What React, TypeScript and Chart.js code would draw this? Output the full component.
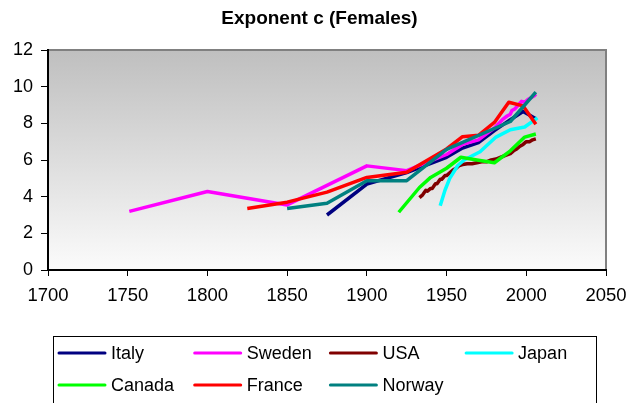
import React, { useEffect, useRef } from 'react';
import { Chart, registerables } from 'chart.js';

Chart.register(...registerables);

const TITLE = 'Exponent c (Females)';
const X_TICKS = [1700, 1750, 1800, 1850, 1900, 1950, 2000, 2050];
const Y_TICKS = [0, 2, 4, 6, 8, 10, 12];

const COUNTRIES = ['Italy', 'Sweden', 'USA', 'Japan', 'Canada', 'France', 'Norway'];

const italyYears = [1875, 1900, 1925, 1950, 1960, 1970, 1980, 1990, 1998, 2006];
const italyValues = [3.0, 4.69, 5.31, 6.15, 6.65, 6.95, 7.6, 8.2, 8.65, 8.25];

const swedenYears = [1751, 1800, 1850, 1900, 1925, 1940, 1950, 1960, 1970, 1980, 1985, 1988, 1990, 1991, 1993, 1995, 1997, 1999, 2001, 2003, 2005, 2006];
const swedenValues = [3.2, 4.28, 3.55, 5.68, 5.42, 5.95, 6.3, 6.85, 7.1, 7.75, 8.2, 8.4, 8.5, 8.7, 8.8, 9.0, 9.2, 9.15, 9.3, 9.4, 9.5, 9.6];

const usaYears = [1933, 1935, 1937, 1938, 1940, 1941, 1943, 1944, 1946, 1947, 1949, 1950, 1952, 1954, 1956, 1958, 1960, 1963, 1966, 1969, 1972, 1975, 1978, 1981, 1984, 1987, 1990, 1992, 1994, 1996, 1998, 2000, 2002, 2004, 2006];
const usaValues = [3.95, 4.1, 4.35, 4.3, 4.45, 4.45, 4.7, 4.7, 4.95, 4.95, 5.15, 5.15, 5.3, 5.45, 5.55, 5.7, 5.75, 5.8, 5.8, 5.85, 5.9, 5.9, 6.0, 6.05, 6.15, 6.25, 6.35, 6.5, 6.6, 6.75, 6.85, 7.0, 7.0, 7.1, 7.15];

const japanYears = [1946, 1949, 1952, 1957, 1961, 1971, 1981, 1990, 1999, 2007];
const japanValues = [3.5, 4.35, 5.0, 5.7, 6.0, 6.45, 7.25, 7.65, 7.8, 8.3];

const canadaYears = [1920, 1933, 1940, 1950, 1959, 1969, 1980, 1990, 1999, 2006];
const canadaValues = [3.15, 4.5, 5.05, 5.55, 6.15, 6.0, 5.85, 6.5, 7.25, 7.42];

const franceYears = [1825, 1850, 1875, 1900, 1925, 1950, 1960, 1970, 1980, 1989, 1998, 2006];
const franceValues = [3.36, 3.7, 4.25, 5.05, 5.33, 6.6, 7.27, 7.35, 8.05, 9.15, 8.95, 7.95];

const norwayYears = [1850, 1875, 1900, 1925, 1950, 1990, 2006];
const norwayValues = [3.35, 3.64, 4.87, 4.87, 6.58, 8.1, 9.7];

const SERIES_YEARS = [italyYears, swedenYears, usaYears, japanYears, canadaYears, franceYears, norwayYears];
const SERIES_VALUES = [italyValues, swedenValues, usaValues, japanValues, canadaValues, franceValues, norwayValues];
const COLORS = ['#000080', '#FF00FF', '#800000', '#00FFFF', '#00FF00', '#FF0000', '#008080'];

const FONT = '"Liberation Sans", Arial, sans-serif';

const backgroundPlugin = {
  id: 'plotBackground',
  beforeDraw(chart: any) {
    const { ctx, chartArea } = chart;
    if (!chartArea) return;
    const { left, top, right, bottom } = chartArea;
    ctx.save();
    const g = ctx.createLinearGradient(0, top, 0, bottom);
    g.addColorStop(0, '#bfbfbf');
    g.addColorStop(1, '#fbfbfb');
    ctx.fillStyle = g;
    ctx.fillRect(left, top, right - left, bottom - top);
    ctx.strokeStyle = '#808080';
    ctx.lineWidth = 2;
    ctx.beginPath();
    ctx.moveTo(left, top);
    ctx.lineTo(right, top);
    ctx.lineTo(right, bottom);
    ctx.stroke();
    ctx.restore();
  },
};

const legendPlugin = {
  id: 'gridLegend',
  afterDraw(chart: any) {
    const { ctx } = chart;
    ctx.save();
    ctx.strokeStyle = '#000';
    ctx.lineWidth = 1;
    ctx.strokeRect(53.5, 336.5, 543, 90);
    chart.data.datasets.forEach((ds: any, i: number) => {
      const col = i % 4;
      const row = Math.floor(i / 4);
      const x = 59 + col * 135.7;
      const y = 353 + row * 32;
      ctx.strokeStyle = ds.borderColor;
      ctx.lineWidth = 3;
      ctx.lineCap = 'round';
      ctx.beginPath();
      ctx.moveTo(x, y);
      ctx.lineTo(x + 46, y);
      ctx.stroke();
      ctx.fillStyle = '#000';
      ctx.font = `18px ${FONT}`;
      ctx.textBaseline = 'middle';
      ctx.textAlign = 'left';
      ctx.fillText(ds.label, x + 52, y + 1);
    });
    ctx.restore();
  },
};

export default function App() {
  const ref = useRef<HTMLCanvasElement | null>(null);

  useEffect(() => {
    if (!ref.current) return;
    const datasets = COUNTRIES.map((name, i) => ({
      label: name,
      data: SERIES_YEARS[i].map((yr, j) => ({ x: yr, y: SERIES_VALUES[i][j] })),
      borderColor: COLORS[i],
      backgroundColor: COLORS[i],
      borderWidth: 3.5,
      pointRadius: 0,
      pointHoverRadius: 0,
      tension: 0,
      fill: false,
      borderJoinStyle: 'round' as const,
      order: COUNTRIES.length - i,
    }));

    const chart = new Chart(ref.current, {
      type: 'line',
      data: { datasets },
      options: {
        animation: false,
        responsive: false,
        devicePixelRatio: 1,
        layout: { padding: { left: 10, right: 0, top: 0, bottom: 93 } },
        plugins: {
          legend: { display: false },
          tooltip: { enabled: false },
          title: {
            display: true,
            text: TITLE,
            color: '#000',
            font: { family: FONT, size: 19, weight: 'bold', lineHeight: 1.2 },
            padding: { top: 7, bottom: 20.2 },
          },
        },
        scales: {
          x: {
            type: 'linear',
            min: 1700,
            max: 2050,
            afterBuildTicks: (scale: any) => {
              scale.ticks = X_TICKS.map((v) => ({ value: v }));
            },
            afterFit: (scale: any) => {
              scale.height = 40;
              scale.paddingRight = 23;
              scale.paddingLeft = 0;
            },
            ticks: {
              color: '#000',
              font: { family: FONT, size: 18.5 },
              padding: 9,
              maxRotation: 0,
              autoSkip: false,
              callback: (v: any) => String(v),
            },
            grid: {
              drawOnChartArea: false,
              drawTicks: true,
              tickLength: 6,
              color: '#000',
              lineWidth: 1,
            },
            border: { display: true, color: '#000', width: 2 },
          },
          y: {
            type: 'linear',
            min: 0,
            max: 12,
            afterBuildTicks: (scale: any) => {
              scale.ticks = Y_TICKS.map((v) => ({ value: v }));
            },
            afterFit: (scale: any) => {
              scale.width = 38;
            },
            ticks: {
              color: '#000',
              font: { family: FONT, size: 18 },
              padding: 8,
              callback: (v: any) => String(v),
            },
            grid: {
              drawOnChartArea: false,
              drawTicks: true,
              tickLength: 7,
              color: '#000',
              lineWidth: 1,
            },
            border: { display: true, color: '#000', width: 2 },
          },
        },
      },
      plugins: [backgroundPlugin, legendPlugin],
    });

    return () => chart.destroy();
  }, []);

  return (
    <div style={{ position: 'fixed', left: 0, top: 0, width: 629, height: 403, background: '#fff' }}>
      <canvas ref={ref} width={629} height={403} style={{ display: 'block' }} />
    </div>
  );
}
